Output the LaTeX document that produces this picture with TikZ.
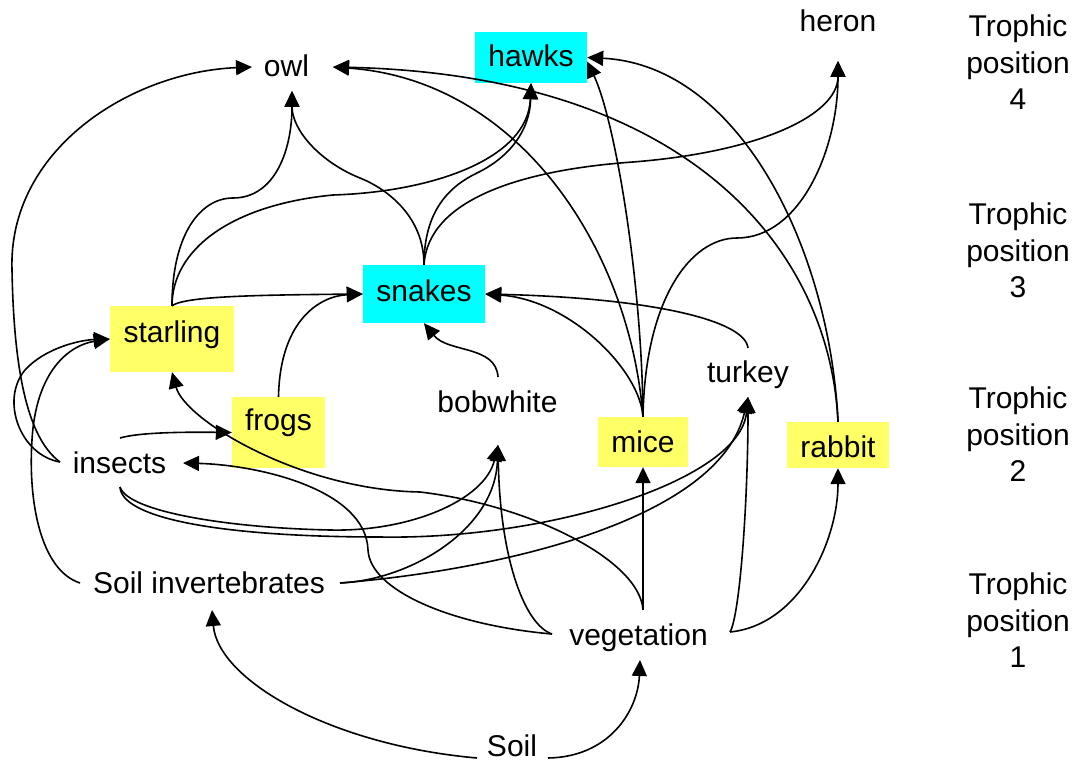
\documentclass[tikz,border=0pt]{standalone}
\usepackage{fontspec}
\setmainfont{Liberation Sans}
\usetikzlibrary{arrows.meta,calc}
\definecolor{boxcyan}{HTML}{00FFFF}
\definecolor{boxyellow}{HTML}{FFFF66}
\begin{document}
\begin{tikzpicture}[x=1pt,y=-1pt,
  every node/.style={font=\fontsize{30pt}{36.5pt}\selectfont, inner sep=0pt},
  txt/.style={anchor=base},
  cbox/.style={fill=boxcyan},
  ybox/.style={fill=boxyellow},
  arr/.style={line width=1.6pt, -{Triangle[length=16pt,width=15pt]}},
  tlabel/.style={align=center, anchor=north}]
\fill[white] (0,0) rectangle (1080,765);
\useasboundingbox (0,0) rectangle (1080,765);

% boxed nodes
\node[cbox, minimum width=112pt, minimum height=51pt, text height=22pt, text depth=3pt] (hawks) at (531,57.5) {hawks};
\node[cbox, minimum width=122pt, minimum height=58pt, text height=22pt, text depth=8pt] (snakes) at (424,294) {snakes};
\node[ybox, minimum width=124pt, minimum height=66pt, text height=22pt, text depth=16pt] (starling) at (172,339) {starling};
\node[ybox, minimum width=93pt, minimum height=71pt, text height=22pt, text depth=27pt] (frogs) at (278.5,432.5) {frogs};
\node[ybox, minimum width=90pt, minimum height=50pt, text height=22pt, text depth=2pt] (mice) at (643,442) {mice};
\node[ybox, minimum width=102pt, minimum height=46pt, text height=24pt, text depth=0pt] (rabbit) at (838,445) {rabbit};

% plain text nodes
\node[txt] (owl) at (286.5,77) {owl};
\node[txt] (heron) at (838,32) {heron};
\node[txt] (bobwhite) at (497.5,412) {bobwhite};
\node[txt] (insects) at (119.5,473) {insects};
\node[txt] (turkey) at (748,382) {turkey};
\node[txt] (soilinv) at (209,593) {Soil invertebrates};
\node[txt] (veg) at (638.5,645) {vegetation};
\node[txt] (soil) at (512,756) {Soil};

% trophic labels
\node[tlabel] (tp4) at (1018,15) {Trophic\\position\\4};
\node[tlabel] (tp3) at (1018,203) {Trophic\\position\\3};
\node[tlabel] (tp2) at (1018,387) {Trophic\\position\\2};
\node[tlabel] (tp1) at (1018,573) {Trophic\\position\\1};

% ports
\coordinate (owl-w) at ([shift={(-34.5,-10)}]owl.base);
\coordinate (owl-e) at ([shift={(46.5,-10)}]owl.base);
\coordinate (owl-s) at ([shift={(5.5,14)}]owl.base);
\coordinate (heron-s) at ([shift={(0,29)}]heron.base);
\coordinate (bob-n) at ([shift={(0.5,-35)}]bobwhite.base);
\coordinate (bob-s) at ([shift={(0.5,33)}]bobwhite.base);
\coordinate (ins-w) at ([shift={(-59.5,-11)}]insects.base);
\coordinate (ins-n) at ([shift={(0.5,-35)}]insects.base);
\coordinate (ins-e) at ([shift={(63.5,-10)}]insects.base);
\coordinate (ins-s) at ([shift={(0.5,14)}]insects.base);
\coordinate (tur-n) at ([shift={(0,-34)}]turkey.base);
\coordinate (tur-s) at ([shift={(0,15)}]turkey.base);
\coordinate (si-w) at ([shift={(-129,-10)}]soilinv.base);
\coordinate (si-e) at ([shift={(131,-10)}]soilinv.base);
\coordinate (si-s) at ([shift={(3,17)}]soilinv.base);
\coordinate (veg-n) at ([shift={(4.5,-35)}]veg.base);
\coordinate (veg-w) at ([shift={(-86.5,-11)}]veg.base);
\coordinate (veg-e) at ([shift={(91.5,-13)}]veg.base);
\coordinate (veg-s) at ([shift={(1.5,15)}]veg.base);
\coordinate (soil-w) at ([shift={(-35,2)}]soil.base);
\coordinate (soil-e) at ([shift={(36,2)}]soil.base);
\coordinate (hawks-e2) at ([yshift=-4pt]hawks.east);

% connectors
\draw[arr] (ins-w) .. controls (30,440) and (14,380) .. (12,270) .. controls (8,150) and (130,72) .. (owl-w);
\draw[arr] (ins-w) .. controls (20,455) and (0,400) .. (25,370) .. controls (45,348) and (80,340) .. (starling.west);
\draw[arr] (si-w) .. controls (40,570) and (28,500) .. (32,440) .. controls (36,370) and (70,345) .. (starling.west);
\draw[arr] (starling.north) .. controls (172,235) and (200,198) .. (233,198) .. controls (275,198) and (292,150) .. (owl-s);
\draw[arr] (starling.north) .. controls (172,250) and (230,205) .. (333,195) .. controls (430,192) and (528,160) .. (hawks.south);
\draw[arr] (starling.north) .. controls (185,296) and (260,295) .. (snakes.west);
\draw[arr] (snakes.north) .. controls (424,215) and (385,188) .. (360,178) .. controls (320,162) and (292,130) .. (owl-s);
\draw[arr] (snakes.north) .. controls (424,210) and (450,186) .. (477,173) .. controls (510,157) and (530,130) .. (hawks.south);
\draw[arr] (snakes.north) .. controls (428,200) and (520,170) .. (633,162) .. controls (760,152) and (838,115) .. (heron-s);
\draw[arr] (mice.north) .. controls (645,300) and (690,238) .. (737,238) .. controls (800,238) and (838,150) .. (heron-s);
\draw[arr] (mice.north) .. controls (642,280) and (615,120) .. (hawks-e2);
\draw[arr] (rabbit.north) .. controls (830,250) and (740,65) .. (hawks.east);
\draw[arr] (rabbit.north) .. controls (830,250) and (690,75) .. (owl-e);
\draw[arr] (mice.north) .. controls (630,250) and (520,80) .. (owl-e);
\draw[arr] (mice.north) .. controls (640,370) and (570,300) .. (snakes.east);
\draw[arr] (tur-n) .. controls (745,320) and (650,298) .. (snakes.east);
\draw[arr] (bob-n) .. controls (496,345) and (448,353) .. (snakes.south);
\draw[arr] (frogs.north) .. controls (280,320) and (320,296) .. (snakes.west);
\draw[arr] (ins-n) .. controls (140,432) and (190,432) .. (frogs.west);
\draw[arr] (veg-n) .. controls (640,560) and (530,505) .. (420,492) .. controls (300,490) and (185,420) .. (starling.south);
\draw[arr] (veg-w) .. controls (450,625) and (370,590) .. (368,550) .. controls (366,490) and (260,465) .. (ins-e);
\draw[arr] (veg-w) .. controls (525,625) and (500,560) .. (bob-s);
\draw[arr] (si-e) .. controls (410,580) and (495,530) .. (bob-s);
\draw[arr] (si-e) .. controls (500,570) and (720,520) .. (tur-s);
\draw[arr] (ins-s) .. controls (128,512) and (230,528) .. (330,530) .. controls (410,532) and (485,500) .. (bob-s);
\draw[arr] (ins-s) .. controls (122,520) and (230,537) .. (380,537) .. controls (550,540) and (740,480) .. (tur-s);
\draw[arr] (veg-n) -- (mice.south);
\draw[arr] (veg-e) .. controls (740,615) and (748,500) .. (tur-s);
\draw[arr] (veg-e) .. controls (800,625) and (838,540) .. (rabbit.south);
\draw[arr] (soil-w) .. controls (330,745) and (218,680) .. (si-s);
\draw[arr] (soil-e) .. controls (610,757) and (638,710) .. (veg-s);
\end{tikzpicture}
\end{document}
